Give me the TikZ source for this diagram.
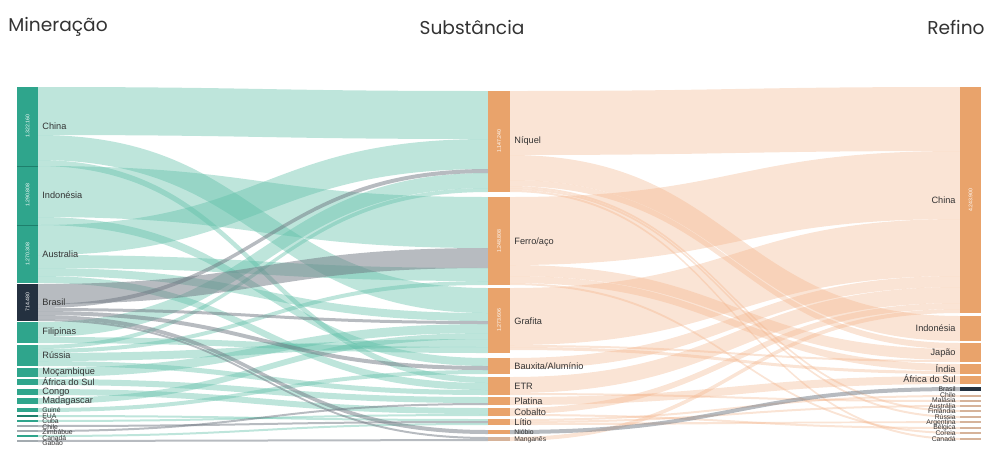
\documentclass[tikz,border=0pt]{standalone}
\usepackage{fontspec}
\setmainfont{Liberation Sans}
\newfontfamily\titlefont{Poppins}
\usepackage{tikz}

\definecolor{mteal}{HTML}{2FA58C}
\definecolor{mdteal}{HTML}{1E7F6C}
\definecolor{mnavy}{HTML}{243140}
\definecolor{morange}{HTML}{E9A36B}
\definecolor{mtan}{HTML}{D6B39A}
\definecolor{mgray}{HTML}{A3ABB0}
\definecolor{tealflow}{HTML}{5CBEA6}
\definecolor{grayflow}{HTML}{6F7882}
\definecolor{peachflow}{HTML}{F2B186}

\tikzset{
	tflow/.style={fill=tealflow,fill opacity=0.4},
	gflow/.style={fill=grayflow,fill opacity=0.5},
	pflow/.style={fill=peachflow,fill opacity=0.35},
	lbl/.style={font=\fontsize{4.6}{5}\selectfont,inner sep=0pt,text=black!80},
	slbl/.style={font=\fontsize{3.4}{4}\selectfont,inner sep=0pt,text=black!80},
	num/.style={font=\fontsize{2.6}{3}\selectfont,text=white,rotate=90,inner sep=0pt},
	ttl/.style={font=\titlefont\fontsize{9.3}{11}\selectfont,inner sep=0pt,text=black!80}
}

\newcommand{\mflow}[5]{\fill[#5] (38,#1) .. controls (263,#1) and (263,#3) .. (488,#3) -- (488,#4) .. controls (263,#4) and (263,#2) .. (38,#2) -- cycle;}
\newcommand{\rflow}[5]{\fill[#5] (510,#1) .. controls (735,#1) and (735,#3) .. (960,#3) -- (960,#4) .. controls (735,#4) and (735,#2) .. (510,#2) -- cycle;}
\newcommand{\lbar}[3]{\fill[#3] (17,#1) rectangle (38,#2);}
\newcommand{\mbar}[3]{\fill[#3] (488,#1) rectangle (510,#2);}
\newcommand{\rbar}[3]{\fill[#3] (960,#1) rectangle (981,#2);}

\begin{document}
\begin{tikzpicture}[x=0.5pt,y=-0.5pt]
	\useasboundingbox (0,0) rectangle (992,452);
	\node[ttl,anchor=west] (mineracao) at (8,27){Mineração};
	\node[ttl] (substancia) at (472,27){Substância};
	\node[ttl,anchor=east] (refino) at (985,27){Refino};

	\mflow{87}{135}{91}{139}{tflow}
	\mflow{135}{160}{288}{313}{tflow}
	\mflow{160}{166}{377}{383}{tflow}
	\mflow{166}{217}{197}{248}{tflow}
	\mflow{217}{225}{358}{366}{tflow}
	\mflow{225}{255}{139}{169}{tflow}
	\mflow{255}{268}{268}{281}{tflow}
	\mflow{268}{276}{313}{321}{tflow}
	\mflow{276}{283}{383}{390}{tflow}
	\mflow{322}{337}{173}{188}{tflow}
	\mflow{337}{343}{347}{353}{tflow}
	\mflow{345}{349}{188}{192}{tflow}
	\mflow{349}{353}{281}{285}{tflow}
	\mflow{353}{361}{339}{347}{tflow}
	\mflow{361}{366}{390}{395}{tflow}
	\mflow{368}{377}{324}{333}{tflow}
	\mflow{379}{385}{397}{403}{tflow}
	\mflow{389}{395}{408}{414}{tflow}
	\mflow{398}{404}{333}{339}{tflow}
	\mflow{408}{412}{370}{374}{tflow}
	\mflow{415}{417}{419}{421}{tflow}
	\mflow{420}{422}{414}{416}{tflow}
	\mflow{425}{427}{421}{423}{gflow}
	\mflow{430}{432}{403}{405}{gflow}
	\mflow{435}{437}{423}{425}{tflow}
	\mflow{440}{442}{439}{441}{gflow}
	\mflow{284}{304}{248}{268}{gflow}
	\mflow{304}{308}{169}{173}{gflow}
	\mflow{308}{311}{321}{324}{gflow}
	\mflow{311}{315}{366}{370}{gflow}
	\mflow{315}{319}{430}{434}{gflow}
	\mflow{319}{321}{437}{439}{gflow}

	\rflow{91}{155}{87}{151}{pflow}
	\rflow{155}{180}{316}{341}{pflow}
	\rflow{180}{186}{343}{349}{pflow}
	\rflow{186}{188}{410}{412}{pflow}
	\rflow{188}{190}{416}{418}{pflow}
	\rflow{190}{192}{438}{440}{pflow}
	\rflow{197}{265}{151}{219}{pflow}
	\rflow{265}{276}{349}{360}{pflow}
	\rflow{276}{283}{364}{371}{pflow}
	\rflow{283}{285}{432}{434}{pflow}
	\rflow{288}{345}{219}{276}{pflow}
	\rflow{345}{347}{360}{362}{pflow}
	\rflow{347}{350}{371}{374}{pflow}
	\rflow{358}{369}{276}{287}{pflow}
	\rflow{377}{393}{287}{303}{pflow}
	\rflow{393}{395}{400}{402}{pflow}
	\rflow{397}{405}{376}{384}{pflow}
	\rflow{408}{414}{303}{309}{pflow}
	\rflow{414}{416}{427}{429}{pflow}
	\rflow{419}{421}{395}{397}{pflow}
	\rflow{421}{423}{405}{407}{pflow}
	\rflow{423}{425}{421}{423}{pflow}
	\rflow{437}{441}{309}{313}{pflow}
	\rflow{430}{434}{387}{391}{gflow}

	\lbar{87}{165.5}{mteal}
	\lbar{166.5}{224.5}{mteal}
	\lbar{225.5}{283}{mteal}
	\lbar{284}{321}{mnavy}
	\lbar{322}{343}{mteal}
	\lbar{345}{366}{mteal}
	\lbar{368}{377}{mteal}
	\lbar{379}{385}{mteal}
	\lbar{389}{395}{mteal}
	\lbar{398}{404}{mteal}
	\lbar{408}{412}{mteal}
	\lbar{415}{417}{mdteal}
	\lbar{420}{422}{mteal}
	\lbar{425}{427}{mgray}
	\lbar{430}{432}{mgray}
	\lbar{435}{437}{mteal}
	\lbar{440}{442}{mgray}
	\draw[mdteal,line width=0.4pt] (17,166) -- (38,166) (17,225) -- (38,225);

	\mbar{91}{192}{morange}
	\mbar{197}{285}{morange}
	\mbar{288}{353}{morange}
	\mbar{358}{374}{morange}
	\mbar{377}{395}{morange}
	\mbar{397}{405}{morange}
	\mbar{408}{416}{morange}
	\mbar{419}{425}{morange}
	\mbar{430}{434}{morange}
	\mbar{437}{441}{mtan}

	\rbar{87}{313}{morange}
	\rbar{316}{341}{morange}
	\rbar{343}{362}{morange}
	\rbar{364}{374}{morange}
	\rbar{376}{384}{morange}
	\rbar{387}{391}{mnavy}
	\rbar{395}{397}{mtan}
	\rbar{400}{402}{mtan}
	\rbar{405}{407}{mtan}
	\rbar{410}{412}{mtan}
	\rbar{416}{418}{mtan}
	\rbar{421}{423}{mtan}
	\rbar{427}{429}{mtan}
	\rbar{432}{434}{mtan}
	\rbar{438}{440}{mtan}

	\node[num] (nChinaM) at (27.5,126){1.322.160};
	\node[num] (nIndonesiaM) at (27.5,195){1.290.808};
	\node[num] (nAustraliaM) at (27.5,254){1.270.308};
	\node[num] (nBrasilM) at (27.5,302){714.480};
	\node[num] (nNiquel) at (499,141){1.147.240};
	\node[num] (nFerro) at (499,241){1.248.808};
	\node[num] (nGrafita) at (499,320){1.273.606};
	\node[num] (nChinaR) at (970.5,200){4.243.900};

	\node[lbl,anchor=west] (lChina) at (42,126){China};
	\node[lbl,anchor=west] (lIndonesia) at (42,195){Indonésia};
	\node[lbl,anchor=west] (lAustralia) at (42,254){Australia};
	\node[lbl,anchor=west] (lBrasil) at (42,302){Brasil};
	\node[lbl,anchor=west] (lFilipinas) at (42,332){Filipinas};
	\node[lbl,anchor=west] (lRussia) at (42,355){Rússia};
	\node[lbl,anchor=west] (lMocambique) at (42,372){Moçambique};
	\node[lbl,anchor=west] (lAfrica) at (42,382){África do Sul};
	\node[lbl,anchor=west] (lCongo) at (42,392){Congo};
	\node[lbl,anchor=west] (lMadagascar) at (42,401){Madagascar};
	\node[slbl,anchor=west] (lGuine) at (42,410.5){Guiné};
	\node[slbl,anchor=west] (lEUA) at (42,416){EUA};
	\node[slbl,anchor=west] (lCuba) at (42,421.5){Cuba};
	\node[slbl,anchor=west] (lChile) at (42,427){Chile};
	\node[slbl,anchor=west] (lZimbabue) at (42,432.5){Zimbábue};
	\node[slbl,anchor=west] (lCanada) at (42,438){Canadá};
	\node[slbl,anchor=west] (lGabao) at (42,443.5){Gabão};

	\node[lbl,anchor=west] (sNiquel) at (514,141.5){Níquel};
	\node[lbl,anchor=west] (sFerro) at (514,242){Ferro/aço};
	\node[lbl,anchor=west] (sGrafita) at (514,321){Grafita};
	\node[lbl,anchor=west] (sBauxita) at (514,366){Bauxita/Alumínio};
	\node[lbl,anchor=west] (sETR) at (514,386){ETR};
	\node[lbl,anchor=west] (sPlatina) at (514,401){Platina};
	\node[lbl,anchor=west] (sCobalto) at (514,412){Cobalto};
	\node[lbl,anchor=west] (sLitio) at (514,422.5){Lítio};
	\node[slbl,anchor=west] (sNiobio) at (514,432){Nióbio};
	\node[slbl,anchor=west] (sManganes) at (514,440){Manganês};

	\node[lbl,anchor=east] (rChina) at (956,200){China};
	\node[lbl,anchor=east] (rIndonesia) at (956,328){Indonésia};
	\node[lbl,anchor=east] (rJapao) at (956,353){Japão};
	\node[lbl,anchor=east] (rIndia) at (956,369){Índia};
	\node[lbl,anchor=east] (rAfrica) at (956,379){África do Sul};
	\node[slbl,anchor=east] (rBrasil) at (956,389){Brasil};
	\node[slbl,anchor=east] (rChile) at (956,395){Chile};
	\node[slbl,anchor=east] (rMalasia) at (956,400.5){Malásia};
	\node[slbl,anchor=east] (rAustralia) at (956,406){Austrália};
	\node[slbl,anchor=east] (rFinlandia) at (956,411.5){Finlândia};
	\node[slbl,anchor=east] (rRussia) at (956,417){Rússia};
	\node[slbl,anchor=east] (rArgentina) at (956,422.5){Argentina};
	\node[slbl,anchor=east] (rBelgica) at (956,428){Bélgica};
	\node[slbl,anchor=east] (rCoreia) at (956,433.5){Coreia};
	\node[slbl,anchor=east] (rCanada) at (956,439){Canadá};
\end{tikzpicture}
\end{document}
